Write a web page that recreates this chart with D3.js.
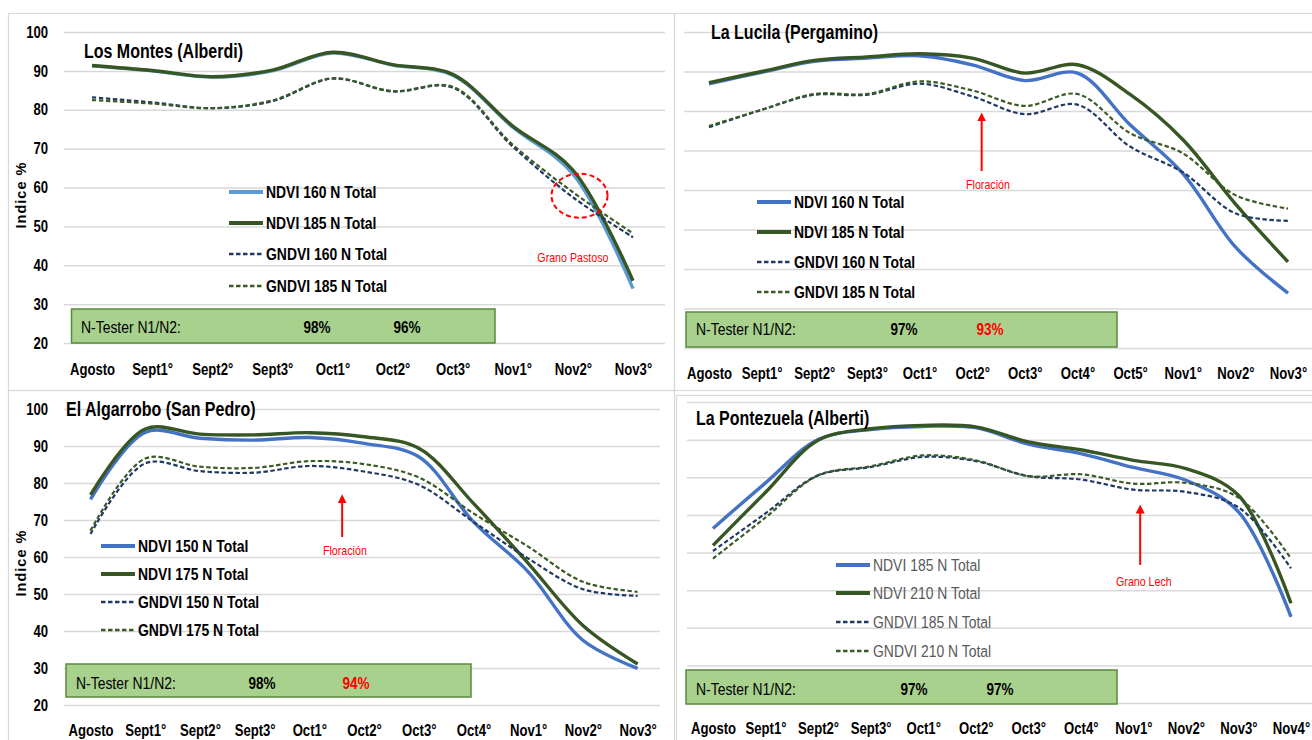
<!DOCTYPE html>
<html><head><meta charset="utf-8">
<script src="https://cdn.jsdelivr.net/npm/d3@7"></script>
<style>
html,body{margin:0;padding:0;background:#fff;}
svg{display:block;font-family:"Liberation Sans",Arial,sans-serif;}
</style></head><body>
<svg id="chart" width="1312" height="740"></svg>
<script>
// ---------- DATA ----------
const yTicks = [20, 30, 40, 50, 60, 70, 80, 90, 100];

const catsLosMontes = ["Agosto","Sept1°","Sept2°","Sept3°","Oct1°","Oct2°","Oct3°","Nov1°","Nov2°","Nov3°"];
const losMontesNdvi160  = [91.3, 90.0, 88.4, 90.0, 94.6, 91.5, 88.9, 75.5, 63.5, 34.0];
const losMontesNdvi185  = [91.4, 90.1, 88.5, 90.2, 94.8, 91.6, 89.1, 75.8, 64.5, 36.0];
const losMontesGndvi160 = [83.2, 81.9, 80.4, 82.2, 88.0, 84.7, 85.7, 70.5, 57.5, 47.2];
const losMontesGndvi185 = [82.5, 81.6, 80.4, 82.4, 88.1, 84.8, 85.9, 71.0, 58.8, 48.2];

const catsLaLucila = ["Agosto","Sept1°","Sept2°","Sept3°","Oct1°","Oct2°","Oct3°","Oct4°","Oct5°","Nov1°","Nov2°","Nov3°"];
const laLucilaNdvi160  = [86.9, 89.8, 92.6, 93.4, 94.0, 91.7, 87.7, 89.6, 76.5, 64.2, 45.6, 33.9];
const laLucilaNdvi185  = [87.2, 90.0, 92.8, 93.7, 94.5, 93.4, 89.6, 91.7, 84.2, 72.8, 56.5, 41.8];
const laLucilaGndvi160 = [75.9, 80.3, 84.1, 84.1, 86.9, 83.7, 79.2, 81.6, 71.0, 64.5, 54.1, 52.2];
const laLucilaGndvi185 = [76.2, 80.3, 84.3, 84.3, 87.5, 85.2, 81.3, 84.3, 74.4, 69.3, 58.7, 55.3];

const catsAlgarrobo = ["Agosto","Sept1°","Sept2°","Sept3°","Oct1°","Oct2°","Oct3°","Oct4°","Nov1°","Nov2°","Nov3°"];
const algarroboNdvi150  = [75.6, 93.7, 92.1, 91.6, 92.3, 90.7, 87.1, 69.5, 56.0, 37.5, 29.9];
const algarroboNdvi175  = [76.8, 94.6, 93.2, 93.0, 93.6, 92.5, 89.4, 74.5, 58.3, 41.5, 31.1];
const algarroboGndvi150 = [66.2, 85.3, 83.2, 82.8, 84.6, 83.1, 79.5, 69.5, 59.6, 51.3, 49.5];
const algarroboGndvi175 = [67.1, 86.6, 84.4, 84.1, 85.9, 85.1, 81.5, 71.8, 62.8, 53.3, 50.6];

const catsPontezuela = ["Agosto","Sept1°","Sept2°","Sept3°","Oct1°","Oct2°","Oct3°","Oct4°","Nov1°","Nov2°","Nov3°","Nov4°"];
const pontezuelaNdvi185  = [66.4, 78.5, 90.0, 92.7, 93.5, 93.2, 88.8, 86.3, 82.6, 79.2, 70.8, 42.9];
const pontezuelaNdvi210  = [61.9, 76.0, 89.8, 92.9, 93.8, 93.4, 89.4, 87.3, 84.5, 82.3, 75.2, 46.5];
const pontezuelaGndvi185 = [60.4, 70.4, 80.5, 82.7, 85.4, 84.3, 80.3, 79.4, 76.7, 76.1, 72.0, 55.8];
const pontezuelaGndvi210 = [58.4, 69.3, 80.5, 82.9, 85.8, 84.5, 80.3, 80.8, 78.3, 78.5, 74.6, 58.4];

const titles = ["Los Montes (Alberdi)", "La Lucila (Pergamino)", "El Algarrobo (San Pedro)", "La Pontezuela (Alberti)"];
const legendLosMontes   = ["NDVI 160 N Total", "NDVI 185 N Total", "GNDVI 160 N Total", "GNDVI 185 N Total"];
const legendLaLucila    = ["NDVI 160 N Total", "NDVI 185 N Total", "GNDVI 160 N Total", "GNDVI 185 N Total"];
const legendAlgarrobo   = ["NDVI 150 N Total", "NDVI 175 N Total", "GNDVI 150 N Total", "GNDVI 175 N Total"];
const legendPontezuela  = ["NDVI 185 N Total", "NDVI 210 N Total", "GNDVI 185 N Total", "GNDVI 210 N Total"];
const nTesterLabel = "N-Tester N1/N2:";
const nTesterLosMontes  = ["98%", "96%"];
const nTesterLaLucila   = ["97%", "93%"];
const nTesterAlgarrobo  = ["98%", "94%"];
const nTesterPontezuela = ["97%", "97%"];
const yTitle = "Indice %";

// ---------- STYLE ----------
const SX = 0.82; // horizontal condensing (narrow face)
const C = {
  lightBlue: "#5b9bd5", blue: "#4472c4", green: "#375623", navy: "#203864", dGreen: "#3a5a27",
  grid: "#d9d9d9", frame: "#d9d9d9", red: "#ff0000", box: "#a9d18e", boxStroke: "#5a8a3c"
};

const svg = d3.select("#chart");
const defs = svg.append("defs");
defs.append("marker").attr("id", "arrow").attr("viewBox", "0 0 10 10")
  .attr("refX", 5).attr("refY", 5).attr("markerWidth", 4.5).attr("markerHeight", 5)
  .attr("orient", "auto-start-reverse").attr("markerUnits", "strokeWidth")
  .append("path").attr("d", "M0,0 L10,5 L0,10 z").attr("fill", C.red);

function ntext(g, x, y, str, size, opts = {}) {
  return g.append("text")
    .attr("transform", `translate(${x},${y}) scale(${SX},1)`)
    .attr("dy", "0.35em")
    .attr("font-size", size)
    .attr("font-weight", opts.bold ? "bold" : "normal")
    .attr("fill", opts.color || "#000")
    .attr("text-anchor", opts.anchor || "start")
    .text(str);
}

const panels = [
  { cats: catsLosMontes, vals: [losMontesNdvi160, losMontesNdvi185, losMontesGndvi160, losMontesGndvi185],
    ndviColor: C.lightBlue, frame: [8, 13, 674, 390], xr: [92, 633], yr: [343, 32], grid: [64, 665],
    yLabels: true, yTitlePos: [21, 195], title: [titles[0], 84, 51], axisY: 364,
    legend: { x: 229, ys: [192, 223, 254, 286], labels: legendLosMontes, bold: true, color: "#000" },
    box: { x0: 71.5, x1: 495, y0: 309, y1: 343, tx: 81, ty: 327, p: nTesterLosMontes, px: [317, 407], pc: ["#000", "#000"] },
    annot: { type: "ellipse", cat: "Nov2°", off: 0.11, v: 57.9, rx: 28, ry: 22, text: "Grano Pastoso", tcat: "Nov2°", toff: 0, tv: 41.9 } },
  { cats: catsLaLucila, vals: [laLucilaNdvi160, laLucilaNdvi185, laLucilaGndvi160, laLucilaGndvi185],
    ndviColor: C.blue, frame: [674, 13, 1320, 390], xr: [709, 1288], yr: [348, 32], grid: [684, 1312],
    yLabels: false, title: [titles[1], 711, 32], axisY: 368,
    legend: { x: 757, ys: [202, 232, 262, 292], labels: legendLaLucila, bold: true, color: "#000" },
    box: { x0: 686, x1: 1117, y0: 312, y1: 347, tx: 696, ty: 329, p: nTesterLaLucila, px: [904, 990], pc: ["#000", C.red] },
    annot: { type: "arrow", cat: "Oct2°", off: 0.18, v0: 64.8, v1: 79.5, text: "Floración", toff: 0.3, tv: 61.5 } },
  { cats: catsAlgarrobo, vals: [algarroboNdvi150, algarroboNdvi175, algarroboGndvi150, algarroboGndvi175],
    ndviColor: C.blue, frame: [8, 390, 674, 745], xr: [90.5, 637.6], yr: [705, 409], grid: [64, 660],
    yLabels: true, yTitlePos: [21, 563], title: [titles[2], 66, 409], axisY: 725,
    legend: { x: 101, ys: [546, 574, 602, 630], labels: legendAlgarrobo, bold: true, color: "#000" },
    box: { x0: 66, x1: 471, y0: 664, y1: 697, tx: 76, ty: 683, p: nTesterAlgarrobo, px: [262, 356], pc: ["#000", C.red] },
    annot: { type: "arrow", cat: "Oct1°", off: 0.6, v0: 65.4, v1: 76.8, text: "Floración", toff: 0.65, tv: 61.9 } },
  { cats: catsPontezuela, vals: [pontezuelaNdvi185, pontezuelaNdvi210, pontezuelaGndvi185, pontezuelaGndvi210],
    ndviColor: C.blue, frame: [676, 395, 1320, 745], xr: [713, 1291], yr: [703, 402], grid: [687, 1312],
    yLabels: false, title: [titles[3], 696, 418], axisY: 723,
    legend: { x: 836, ys: [565, 593, 622, 651], labels: legendPontezuela, bold: false, color: "#595959" },
    box: { x0: 686, x1: 1117, y0: 670, y1: 704, tx: 696, ty: 689, p: nTesterPontezuela, px: [914, 1000], pc: ["#000", "#000"] },
    annot: { type: "arrow", cat: "Nov1°", off: 0.13, v0: 56.7, v1: 72.6, text: "Grano Lech", toff: 0.2, tv: 52.2 } }
];

panels.forEach(drawPanel);

function drawPanel(P) {
  const g = svg.append("g");
  const x = d3.scalePoint().domain(P.cats).range(P.xr);
  const y = d3.scaleLinear().domain([20, 100]).range(P.yr);
  const step = x.step();

  // frame
  const [fx0, fy0, fx1, fy1] = P.frame;
  g.append("rect").attr("x", fx0 + 0.5).attr("y", fy0 + 0.5).attr("width", fx1 - fx0).attr("height", fy1 - fy0)
    .attr("fill", "none").attr("stroke", C.frame).attr("stroke-width", 1.2);

  // gridlines + y labels
  const yAxis = d3.axisLeft(y).tickValues(yTicks).tickSize(-(P.grid[1] - P.grid[0])).tickPadding(16)
    .tickFormat(P.yLabels ? d3.format("d") : () => "");
  const ga = g.append("g").attr("transform", `translate(${P.grid[0]},0)`).call(yAxis);
  ga.select(".domain").remove();
  ga.selectAll("line").attr("stroke", C.grid).attr("stroke-width", 1.5);
  ga.selectAll("text").attr("fill", "#000").attr("font-size", 16).attr("font-weight", "bold")
    .attr("font-family", "'Liberation Sans',Arial,sans-serif")
    .attr("x", -16 / SX).attr("transform", `scale(${SX},1)`);

  if (P.yTitlePos) {
    g.append("text").attr("transform", `translate(${P.yTitlePos[0]},${P.yTitlePos[1]}) rotate(-90)`)
      .attr("text-anchor", "middle").attr("dy", "0.35em")
      .attr("font-weight", "bold").attr("font-size", 14.5).attr("letter-spacing", 1).text(yTitle);
  }

  // x labels
  const xAxis = d3.axisBottom(x).tickSize(0).tickPadding(0);
  const gx = g.append("g").attr("transform", `translate(0,${P.axisY})`).call(xAxis);
  gx.select(".domain").remove();
  gx.selectAll("text").attr("fill", "#000").attr("font-size", 16).attr("font-weight", "bold")
    .attr("font-family", "'Liberation Sans',Arial,sans-serif")
    .attr("transform", `scale(${SX},1)`);

  // N-tester box
  const B = P.box;
  g.append("rect").attr("x", B.x0).attr("y", B.y0).attr("width", B.x1 - B.x0).attr("height", B.y1 - B.y0)
    .attr("fill", C.box).attr("stroke", C.boxStroke).attr("stroke-width", 1.5);
  ntext(g, B.tx, B.ty, nTesterLabel, 17);
  B.p.forEach((t, i) => ntext(g, B.px[i], B.ty, t, 16.5, { bold: true, color: B.pc[i], anchor: "middle" }));

  // series
  const styles = [
    { color: P.ndviColor, w: 3.4, dash: null },
    { color: C.green, w: 3.4, dash: null },
    { color: C.navy, w: 2.2, dash: "4.5,2.5" },
    { color: C.dGreen, w: 2.2, dash: "4.5,2.5" }
  ];
  const line = d3.line().x((d, i) => x(P.cats[i])).y(d => y(d)).curve(d3.curveCatmullRom.alpha(0.5));
  P.vals.forEach((vals, i) => {
    const s = styles[i];
    g.append("path").datum(vals).attr("d", line).attr("fill", "none")
      .attr("stroke", s.color).attr("stroke-width", s.w).attr("stroke-dasharray", s.dash)
      .attr("stroke-linejoin", "round");
  });

  // legend
  const L = P.legend;
  L.labels.forEach((lab, i) => {
    const s = styles[i];
    g.append("line").attr("x1", L.x).attr("x2", L.x + 34).attr("y1", L.ys[i]).attr("y2", L.ys[i])
      .attr("stroke", s.color).attr("stroke-width", s.dash ? 2.4 : 4).attr("stroke-dasharray", s.dash);
    ntext(g, L.x + 37, L.ys[i], lab, 17, { bold: L.bold, color: L.color });
  });

  // title
  ntext(g, P.title[1], P.title[2], P.title[0], 19.5, { bold: true });

  // annotation
  const A = P.annot;
  const ax = x(A.cat) + A.off * step;
  if (A.type === "ellipse") {
    g.append("ellipse").attr("cx", ax).attr("cy", y(A.v)).attr("rx", A.rx).attr("ry", A.ry)
      .attr("fill", "none").attr("stroke", C.red).attr("stroke-width", 2).attr("stroke-dasharray", "5,3");
    ntext(g, x(A.tcat) + A.toff * step, y(A.tv), A.text, 13, { color: C.red, anchor: "middle" });
  } else {
    g.append("line").attr("x1", ax).attr("x2", ax).attr("y1", y(A.v0)).attr("y2", y(A.v1) + 4)
      .attr("stroke", C.red).attr("stroke-width", 2).attr("marker-end", "url(#arrow)");
    ntext(g, x(A.cat) + A.toff * step, y(A.tv), A.text, 13, { color: C.red, anchor: "middle" });
  }
}
</script>
</body></html>
